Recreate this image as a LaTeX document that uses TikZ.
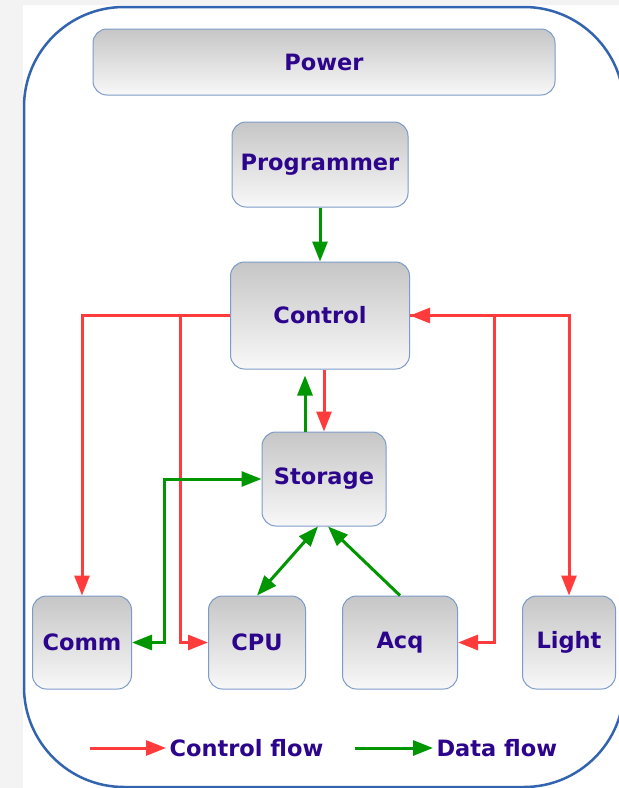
\documentclass[tikz,border=0pt]{standalone}
\usepackage{fontspec}
\setmainfont{DejaVu Sans}
\usetikzlibrary{positioning,arrows.meta,calc}
\definecolor{CF}{RGB}{255,59,59}
\definecolor{DF}{RGB}{0,150,0}
\definecolor{TX}{RGB}{45,5,140}
\definecolor{BD}{RGB}{125,155,200}
\definecolor{FR}{RGB}{50,100,175}
\definecolor{BG}{RGB}{243,243,243}
\definecolor{GT}{RGB}{198,198,198}
\definecolor{GB}{RGB}{248,248,248}

\begin{document}
\begin{tikzpicture}[x=1pt, y=-1pt,
  font=\fontsize{22.5}{27}\selectfont\bfseries,
  blk/.style={draw=BD, line width=1pt, rounded corners=14pt, top color=GT, bottom color=GB, inner sep=0pt, text=TX},
  cflow/.style={draw=CF, line width=3pt, -{Triangle[length=20pt,width=15pt]}},
  dflow/.style={draw=DF, line width=3pt, -{Triangle[length=20pt,width=15pt]}},
  dboth/.style={dflow, {Triangle[length=20pt,width=15pt]}-{Triangle[length=20pt,width=15pt]}}]
  \useasboundingbox (0,0) rectangle (619,788);
  \fill[BG] (0,0) rectangle (619,788);
  \fill[white] (23,5) rectangle (619,788);
  \begin{scope}
    \clip (0,0) rectangle (619,788);
    \draw[FR, line width=2.5pt, rounded corners=100pt] (24,7) rectangle (624,787);
  \end{scope}

  % blocks
  \node[blk, minimum width=462pt, minimum height=66pt] (pwr) at (324,62) {Power};
  \node[blk, minimum width=176pt, minimum height=85pt] (prog) at (320,164.5) {Programmer};
  \node[blk, minimum width=179pt, minimum height=107pt, below=54pt of prog] (ctrl) {Control};
  \node[blk, minimum width=124pt, minimum height=94pt] (stor) at (324,479) {Storage};
  \node[blk, minimum width=99pt, minimum height=93pt] (comm) at (82,642.5) {Comm};
  \node[blk, minimum width=97pt, minimum height=93pt, right=76pt of comm] (cpu) {CPU};
  \node[blk, minimum width=115pt, minimum height=93pt, right=36pt of cpu] (acq) {Acq};
  \node[blk, minimum width=93pt, minimum height=93pt, right=64pt of acq] (light) {Light};

  \coordinate (cpubend) at (180,642.5);
  \coordinate (commbend) at (164,642.5);
  \coordinate (acqbend) at (494,642.5);

  % control flow
  \draw[cflow] (ctrl.west) -| (comm.north);
  \draw[cflow] (ctrl.west) -| (cpubend) -- (cpu.west);
  \draw[cflow] (ctrl.east) -| (light.north);
  \draw[cflow] (acqbend |- ctrl.east) -- (ctrl.east);
  \draw[cflow] (acqbend |- ctrl.east) -- (acqbend) -- (acq.east);
  \draw[cflow] (ctrl.south -| stor.north) -- (stor.north);

  % data flow
  \draw[dflow] (prog) -- (ctrl);
  \draw[dflow, shorten >=6pt] ([xshift=-19pt]stor.north) -- ([xshift=-19pt]stor.north |- ctrl.south);
  \draw[dboth] (comm.east) -- (commbend) |- (stor.west);
  \draw[dboth] (cpu.north) -- ([xshift=-6pt]stor.south);
  \draw[dflow] (acq.north) -- ([xshift=4pt]stor.south);

  % legend
  \coordinate (cfa) at (90,748);
  \node[anchor=west, text=TX] (cflbl) at (166,748) {Control flow};
  \draw[cflow] (cfa) -- (cflbl);
  \coordinate (dfa) at (355,748);
  \node[anchor=west, text=TX] (dflbl) at (433,748) {Data flow};
  \draw[dflow] (dfa) -- (dflbl);
\end{tikzpicture}
\end{document}
